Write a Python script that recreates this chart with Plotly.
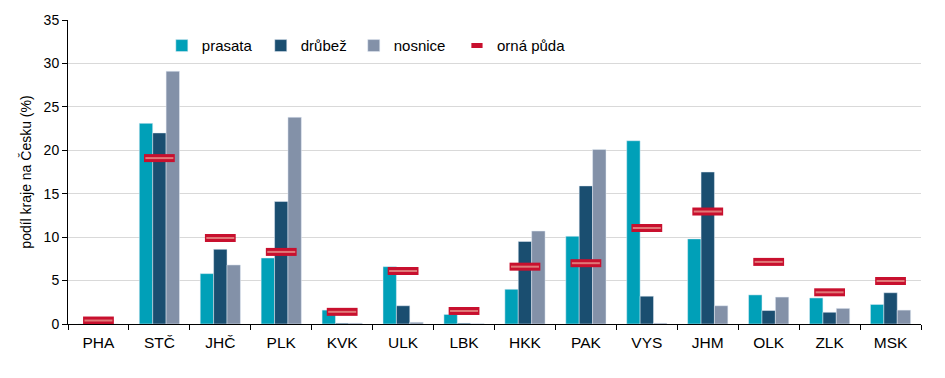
import plotly.graph_objects as go

kraje = ["PHA", "STČ", "JHČ", "PLK", "KVK", "ULK", "LBK", "HKK", "PAK", "VYS", "JHM", "OLK", "ZLK", "MSK"]
prasata = [0.0, 23.1, 5.8, 7.6, 1.6, 6.6, 1.1, 4.0, 10.1, 21.1, 9.8, 3.35, 3.0, 2.25]
drubez = [0.0, 22.0, 8.6, 14.1, 0.1, 2.1, 0.1, 9.5, 15.9, 3.2, 17.5, 1.55, 1.35, 3.6]
nosnice = [0.0, 29.1, 6.8, 23.8, 0.1, 0.2, 0.05, 10.7, 20.1, 0.1, 2.1, 3.1, 1.8, 1.6]
orna_puda = [0.4, 19.1, 9.9, 8.3, 1.4, 6.1, 1.5, 6.6, 7.0, 11.05, 12.95, 7.15, 3.65, 4.95]

fig = go.Figure()
fig.add_bar(x=kraje, y=prasata, name="prasata", marker_color="#00A0B8", legend="legend")
fig.add_bar(x=kraje, y=drubez, name="drůbež", marker_color="#1A4E70", legend="legend2")
fig.add_bar(x=kraje, y=nosnice, name="nosnice", marker_color="#8391A8", legend="legend3")
fig.add_scatter(x=kraje, y=orna_puda, name="orná půda", mode="markers", showlegend=False,
                marker=dict(symbol="line-ew", size=22, color="#C8102E",
                            line=dict(width=8, color="#C8102E")))
fig.add_scatter(x=kraje, y=orna_puda, name="orná půda", mode="markers", showlegend=False,
                marker=dict(symbol="line-ew", size=20, color="#E07878",
                            line=dict(width=2, color="#E07878")))
# legend-only entry for orná půda
fig.add_scatter(x=[None], y=[None], name="orná půda", mode="markers", legend="legend4",
                marker=dict(symbol="line-ew", size=8, color="#C8102E",
                            line=dict(width=5, color="#C8102E")))

leg_common = dict(orientation="h", y=0.915, xanchor="left", yanchor="middle",
                  font=dict(size=15), bgcolor="rgba(0,0,0,0)")

fig.update_layout(
    width=945, height=378,
    margin=dict(l=68, r=24, t=17, b=54),
    paper_bgcolor="white", plot_bgcolor="white",
    font=dict(family="Liberation Sans, Arial", size=13, color="black"),
    barmode="group", bargap=0.34, bargroupgap=0,
    showlegend=True,
    legend=dict(x=0.11, **leg_common),
    legend2=dict(x=0.226, **leg_common),
    legend3=dict(x=0.335, **leg_common),
    legend4=dict(x=0.456, **leg_common),
    xaxis=dict(range=[-0.5, 13.5], showline=True, linecolor="black", linewidth=1,
               ticks="outside", tickson="boundaries", ticklen=5, tickcolor="black",
               tickfont=dict(size=15.5), ticklabelstandoff=4, showgrid=False),
    yaxis=dict(range=[0, 35], dtick=5, showline=True, linecolor="black", linewidth=1,
               ticks="outside", ticklen=5, tickcolor="black", showgrid=True,
               gridcolor="#D9D9D9", gridwidth=1, zeroline=False,
               tickfont=dict(size=14),
               title=dict(text="podíl kraje na Česku (%)", font=dict(size=14), standoff=8)),
)
fig.write_html("out.html")
